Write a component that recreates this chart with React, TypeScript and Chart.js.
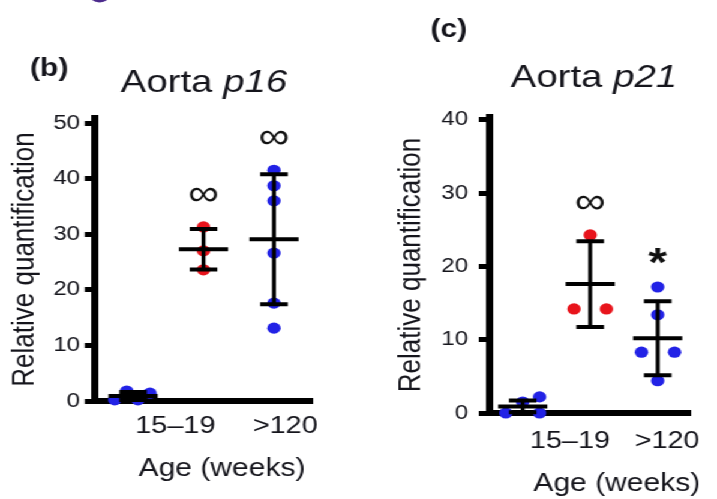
import React, { useEffect, useRef } from "react";
import { Chart, registerables } from "chart.js";

Chart.register(...registerables);

const FONT = '"Liberation Sans", Arial, Helvetica, sans-serif';
const TEXT = "#15151c";
const BLUE = "#2222e6";
const RED = "#e8141c";
const H = 499;

// ---- shared categories / tick labels ----
const groupPositions = [1, 2, 3];
const xTickLabels = ["15–19", ">120"];
const yTitle = "Relative quantification";
const xTitle = "Age (weeks)";

// ---- panel (b) Aorta p16 ----
const p16YoungValues = [0.2, 1.8, 0.2, 1.4];
const p16YoungJitter = [-0.26, -0.09, 0.07, 0.24];
const p16MidValues = [31.3, 27.0, 23.6];
const p16MidJitter = [0, 0, 0];
const p16OldValues = [41.5, 38.7, 36.0, 26.6, 17.6, 13.1];
const p16OldJitter = [0, 0, 0, 0, 0, 0];
const p16Means = [0.9, 27.3, 29.1];
const p16Sds = [0.7, 3.65, 11.7];
const p16Marks = ["", "∞", "∞"];
const p16YTicks = [0, 10, 20, 30, 40, 50];
const p16XTickValues = [1.6, 3.16];

// ---- panel (c) Aorta p21 ----
const p21YoungValues = [0.0, 1.5, 2.2, 0.0];
const p21YoungJitter = [-0.25, 0.0, 0.25, 0.25];
const p21MidValues = [24.3, 14.2, 14.2];
const p21MidJitter = [0, -0.24, 0.24];
const p21OldValues = [17.2, 13.4, 8.3, 8.3, 4.4];
const p21OldJitter = [0, 0, -0.24, 0.25, 0];
const p21Means = [0.9, 17.6, 10.2];
const p21Sds = [0.8, 5.85, 5.05];
const p21Marks = ["", "∞", "*"];
const p21YTicks = [0, 10, 20, 30, 40];
const p21XTickValues = [1.7, 3.14];

const groupColors = [BLUE, RED, BLUE];

type Series = {
  group: number;
  values: number[];
  jitter: number[];
  color: string;
  mean: number;
  sd: number;
  mark: string;
};

function makeSeries(
  values: number[][],
  jitters: number[][],
  means: number[],
  sds: number[],
  marks: string[]
): Series[] {
  return values.map((v, i) => ({
    group: groupPositions[i],
    values: v,
    jitter: jitters[i],
    color: groupColors[i],
    mean: means[i],
    sd: sds[i],
    mark: marks[i],
  }));
}

const panelB = {
  canvasWidth: 300,
  padding: { left: 0, top: 118, right: 40, bottom: 0 },
  yAxisWidth: 79.2,
  xAxisHeight: 98,
  yMax: 50.9,
  yTicks: p16YTicks,
  xMin: 0.46,
  xMax: 3.54,
  xTickValues: p16XTickValues,
  xTickPadding: 10.6,
  yTickPadding: 4,
  yTitlePad: 5,
  tag: "(b)",
  tagX: 41,
  tagY: 69,
  gene: "p16",
  titleX: 170,
  titleY: 92,
  xTitleX: 185,
  xTitleY: 476,
  arc: true,
  series: makeSeries(
    [p16YoungValues, p16MidValues, p16OldValues],
    [p16YoungJitter, p16MidJitter, p16OldJitter],
    p16Means,
    p16Sds,
    p16Marks
  ),
};

const panelC = {
  canvasWidth: 298,
  padding: { left: 23, top: 117, right: 12.2, bottom: 0 },
  yAxisWidth: 84.5,
  xAxisHeight: 86,
  yMax: 40.4,
  yTicks: p21YTicks,
  xMin: 0.5,
  xMax: 3.49,
  xTickValues: p21XTickValues,
  xTickPadding: 13.6,
  yTickPadding: 9,
  yTitlePad: 4.5,
  tag: "(c)",
  tagX: 74,
  tagY: 30,
  gene: "p21",
  titleX: 195,
  titleY: 87,
  xTitleX: 214,
  xTitleY: 491,
  arc: false,
  series: makeSeries(
    [p21YoungValues, p21MidValues, p21OldValues],
    [p21YoungJitter, p21MidJitter, p21OldJitter],
    p21Means,
    p21Sds,
    p21Marks
  ),
};

type Panel = typeof panelB;

function buildConfig(p: Panel): any {
  const datasets = p.series.map((s) => ({
    type: "scatter",
    data: s.values.map((v, i) => ({ x: s.group + s.jitter[i], y: v })),
    backgroundColor: s.color,
    borderColor: s.color,
    pointRadius: 5.6,
    pointHoverRadius: 5.6,
    pointBorderWidth: 0,
    clip: false,
  }));

  const errorBars = {
    id: "errorBars",
    afterDatasetsDraw(chart: any) {
      const { ctx } = chart;
      const xs = chart.scales.x;
      const ys = chart.scales.y;
      ctx.save();
      ctx.strokeStyle = "#000";
      ctx.lineCap = "butt";
      p.series.forEach((s) => {
        const x = xs.getPixelForValue(s.group);
        const yT = ys.getPixelForValue(s.mean + s.sd);
        const yB = ys.getPixelForValue(s.mean - s.sd);
        const yM = ys.getPixelForValue(s.mean);
        ctx.lineWidth = 3.3;
        ctx.beginPath();
        ctx.moveTo(x, yT);
        ctx.lineTo(x, yB);
        ctx.stroke();
        ctx.lineWidth = 4;
        ctx.beginPath();
        ctx.moveTo(x - 11.5, yT);
        ctx.lineTo(x + 11.5, yT);
        ctx.moveTo(x - 11.5, yB);
        ctx.lineTo(x + 11.5, yB);
        ctx.moveTo(x - 20.5, yM);
        ctx.lineTo(x + 20.5, yM);
        ctx.stroke();
        if (s.mark) {
          const topVal = Math.max(Math.max(...s.values), s.mean + s.sd);
          let y = ys.getPixelForValue(topVal) - 32;
          ctx.fillStyle = "#111";
          ctx.textAlign = "center";
          ctx.textBaseline = "middle";
          if (s.mark === "*") {
            ctx.font = `bold 40px ${FONT}`;
            y += 10;
          } else {
            ctx.font = `36px ${FONT}`;
          }
          ctx.fillText(s.mark, x, y);
        }
      });
      ctx.restore();
    },
  };

  const texts = {
    id: "texts",
    afterDraw(chart: any) {
      const { ctx } = chart;
      ctx.save();
      if (p.arc) {
        ctx.fillStyle = "#4b2a8c";
        ctx.beginPath();
        ctx.ellipse(83, -11, 11, 13.5, 0, 0, Math.PI * 2);
        ctx.fill();
      }
      ctx.fillStyle = TEXT;
      ctx.font = `bold 25px ${FONT}`;
      ctx.textAlign = "center";
      ctx.textBaseline = "middle";
      ctx.fillText(p.tag, p.tagX, p.tagY);

      const reg = `32px ${FONT}`;
      const ita = `italic 32px ${FONT}`;
      ctx.font = reg;
      const w1 = ctx.measureText("Aorta ").width;
      ctx.font = ita;
      const w2 = ctx.measureText(p.gene).width;
      const start = p.titleX - (w1 + w2) / 2;
      ctx.textAlign = "left";
      ctx.textBaseline = "alphabetic";
      ctx.font = reg;
      ctx.fillText("Aorta ", start, p.titleY);
      ctx.font = ita;
      ctx.fillText(p.gene, start + w1, p.titleY);

      ctx.font = `25px ${FONT}`;
      ctx.textAlign = "center";
      ctx.fillText(xTitle, p.xTitleX, p.xTitleY);
      ctx.restore();
    },
  };

  return {
    type: "scatter",
    data: { datasets },
    plugins: [errorBars, texts],
    options: {
      responsive: false,
      animation: false,
      events: [],
      layout: { padding: p.padding },
      plugins: {
        legend: { display: false },
        tooltip: { enabled: false },
        title: { display: false },
      },
      scales: {
        x: {
          type: "linear",
          position: "bottom",
          min: p.xMin,
          max: p.xMax,
          afterBuildTicks: (s: any) => {
            s.ticks = p.xTickValues.map((v) => ({ value: v }));
          },
          afterFit: (s: any) => {
            s.height = p.xAxisHeight;
          },
          ticks: {
            callback: (_v: any, i: number) => xTickLabels[i],
            font: { family: FONT, size: 24 },
            color: TEXT,
            padding: p.xTickPadding,
            maxRotation: 0,
            minRotation: 0,
            autoSkip: false,
          },
          grid: { display: false, drawTicks: false },
          border: { display: true, color: "#000", width: 6 },
        },
        y: {
          type: "linear",
          position: "left",
          min: 0,
          max: p.yMax,
          afterBuildTicks: (s: any) => {
            s.ticks = p.yTicks.map((v) => ({ value: v }));
          },
          afterFit: (s: any) => {
            s.width = p.yAxisWidth;
          },
          ticks: {
            font: { family: FONT, size: 20 },
            color: TEXT,
            padding: p.yTickPadding,
          },
          grid: {
            display: true,
            drawOnChartArea: false,
            drawTicks: true,
            tickLength: 8.5,
            lineWidth: 5,
            color: "#000",
          },
          border: { display: true, color: "#000", width: 6 },
          title: {
            display: true,
            text: yTitle,
            color: TEXT,
            font: { family: FONT, size: 26 },
            padding: { top: p.yTitlePad, bottom: 0 },
          },
        },
      },
    },
  };
}

function PanelChart({ panel, left }: { panel: Panel; left: number }) {
  const ref = useRef<HTMLCanvasElement>(null);
  useEffect(() => {
    const chart = new Chart(ref.current as HTMLCanvasElement, buildConfig(panel));
    return () => chart.destroy();
  }, [panel]);
  return (
    <canvas
      ref={ref}
      width={panel.canvasWidth}
      height={H}
      style={{
        position: "absolute",
        left,
        top: 0,
        width: panel.canvasWidth,
        height: H,
      }}
    />
  );
}

export default function App() {
  return (
    <div
      style={{
        position: "absolute",
        left: 0,
        top: 0,
        width: 598,
        height: H,
        background: "#fff",
        overflow: "hidden",
        transform: "scaleX(1.2)",
        transformOrigin: "0 0",
      }}
    >
      <PanelChart panel={panelB} left={0} />
      <PanelChart panel={panelC} left={300} />
    </div>
  );
}
